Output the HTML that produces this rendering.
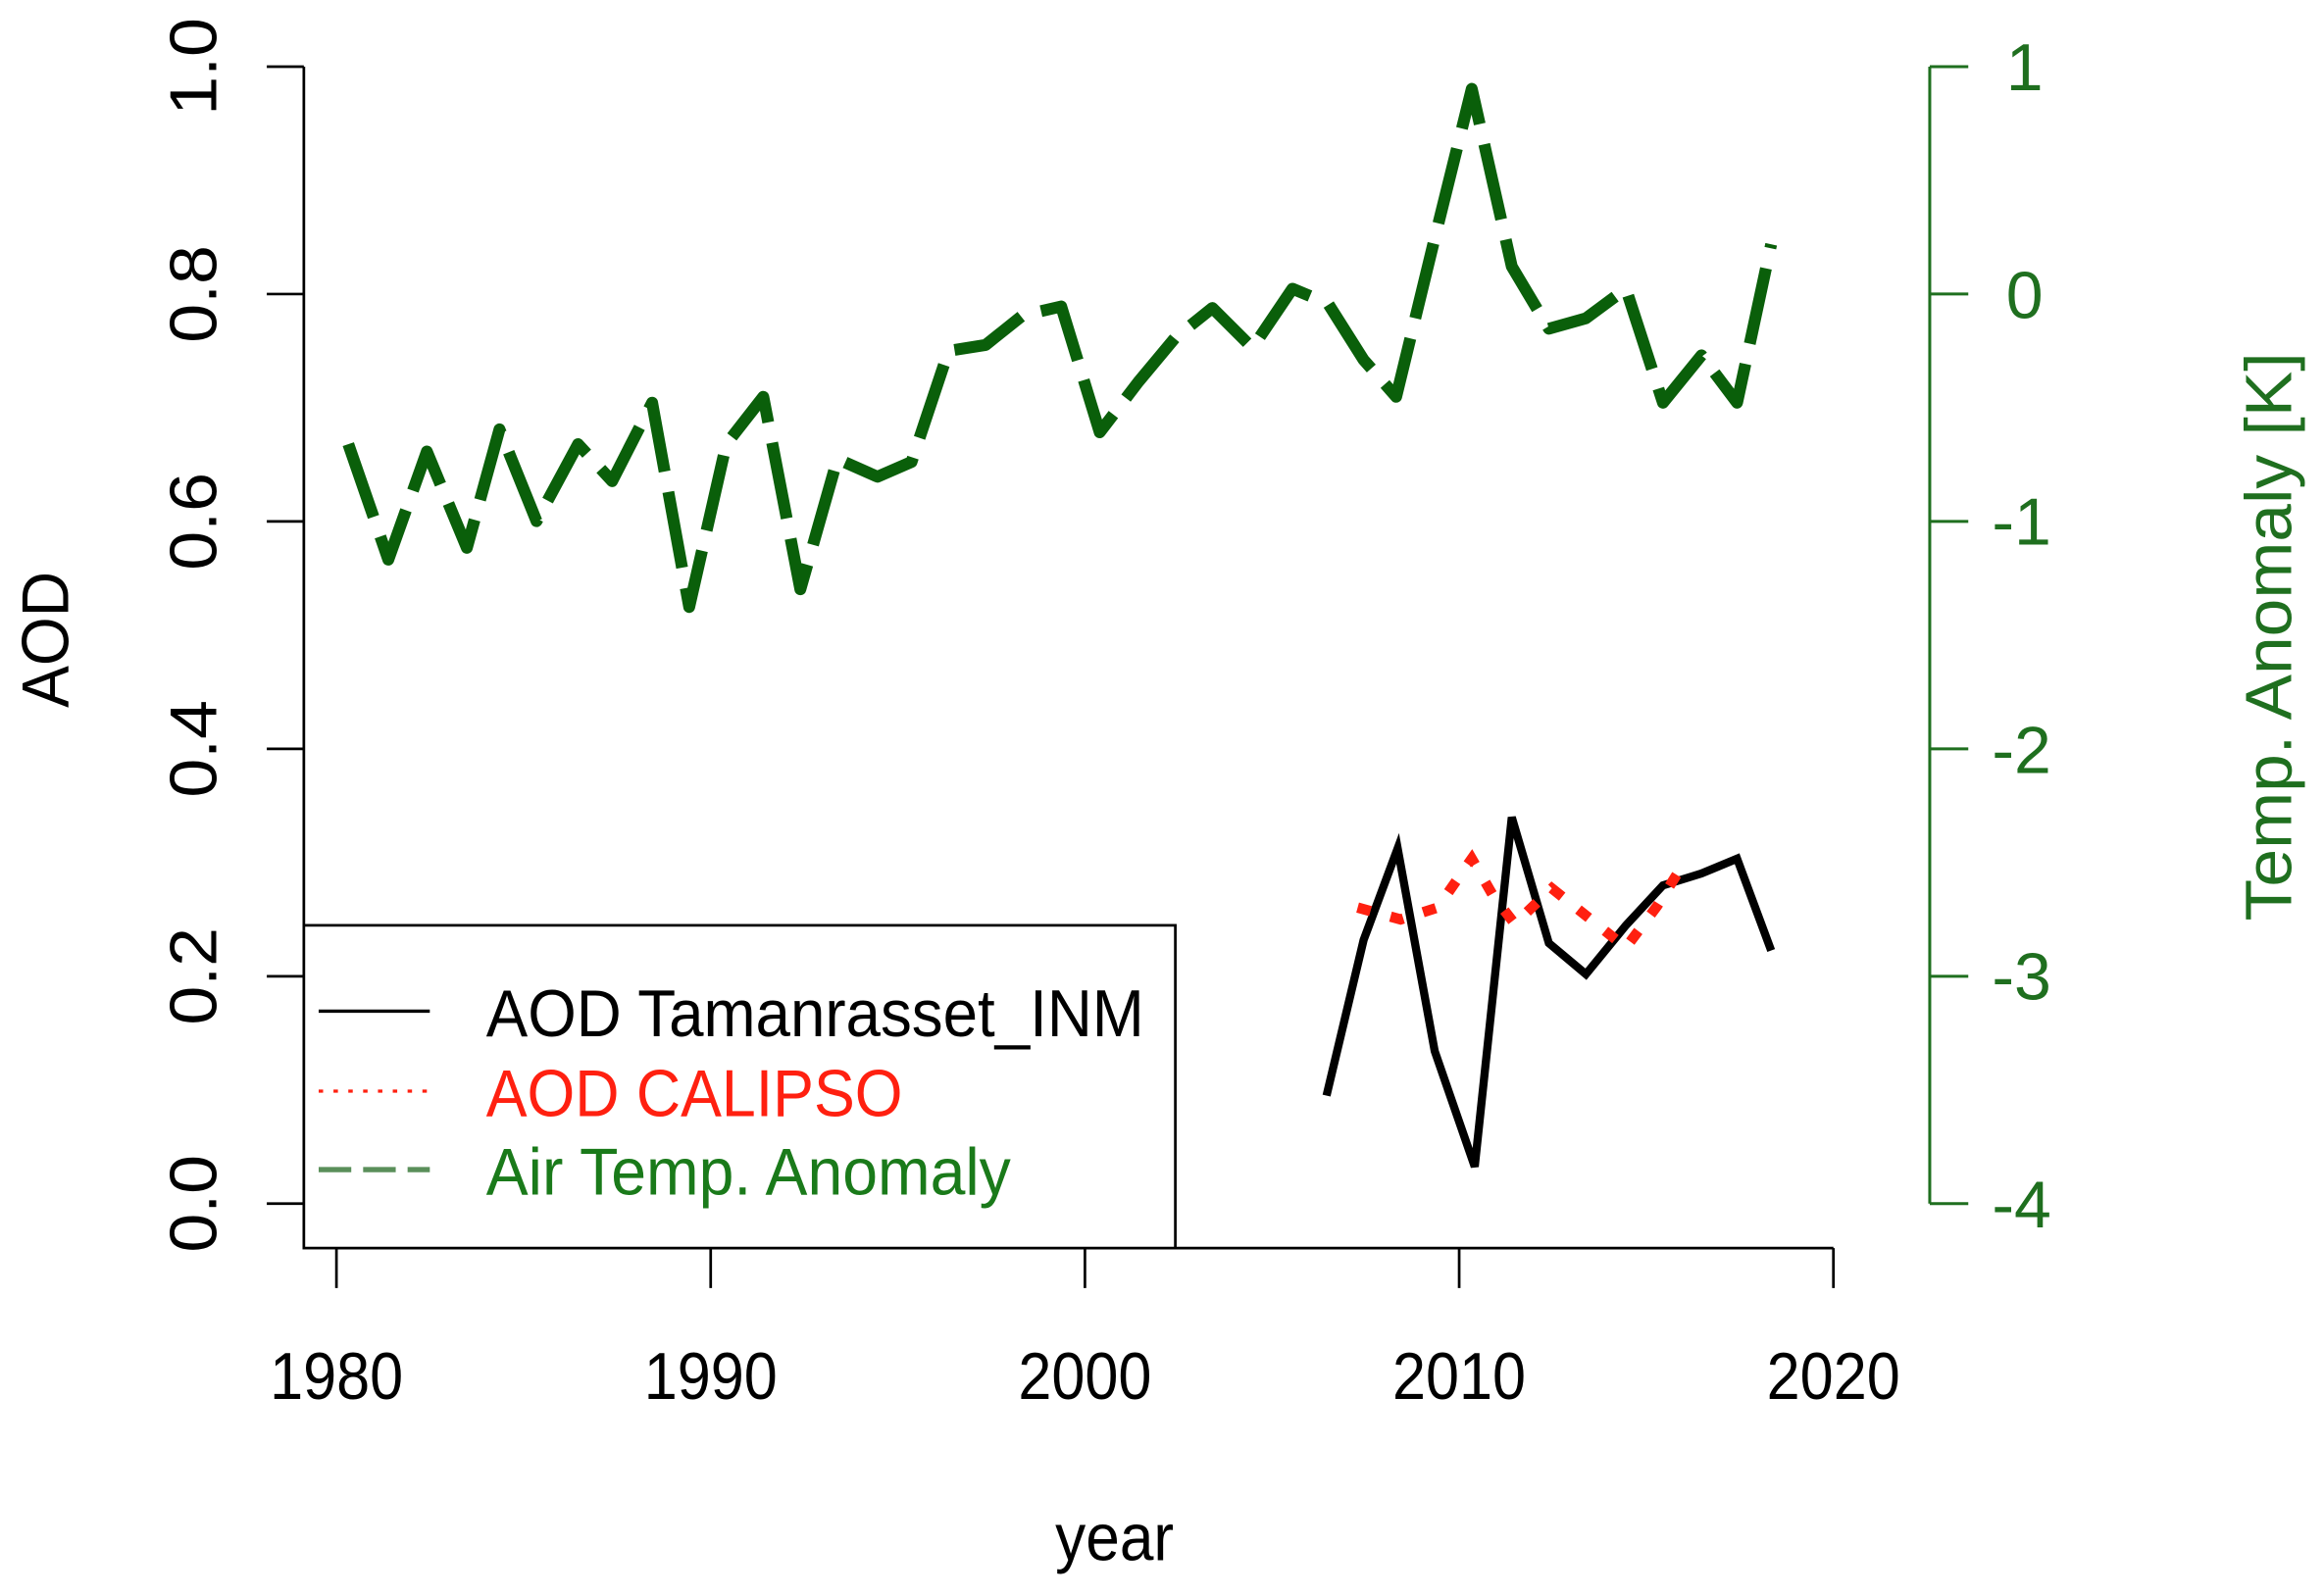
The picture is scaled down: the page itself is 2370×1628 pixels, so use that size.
<!DOCTYPE html>
<html><head><style>html,body{margin:0;padding:0;background:#fff}svg{display:block}</style></head>
<body>
<svg width="2370" height="1628" viewBox="0 0 1568 1078" preserveAspectRatio="none" xmlns="http://www.w3.org/2000/svg" font-family="Liberation Sans, Arial, sans-serif">
<rect width="1568" height="1078" fill="#fff"/>
<g stroke="#000" stroke-width="1.8" fill="none">
<line x1="205" y1="45" x2="205" y2="813"/>
<line x1="180" y1="45" x2="205" y2="45"/>
<line x1="180" y1="198.6" x2="205" y2="198.6"/>
<line x1="180" y1="352.2" x2="205" y2="352.2"/>
<line x1="180" y1="505.8" x2="205" y2="505.8"/>
<line x1="180" y1="659.4" x2="205" y2="659.4"/>
<line x1="180" y1="813" x2="205" y2="813"/>
<line x1="227" y1="843" x2="1237" y2="843"/>
<line x1="227" y1="843" x2="227" y2="870"/>
<line x1="479.5" y1="843" x2="479.5" y2="870"/>
<line x1="732" y1="843" x2="732" y2="870"/>
<line x1="984.5" y1="843" x2="984.5" y2="870"/>
<line x1="1237" y1="843" x2="1237" y2="870"/>
</g>
<g font-size="45" fill="#000" text-anchor="middle">
<text transform="translate(146,45) rotate(-90)" textLength="66" lengthAdjust="spacingAndGlyphs">1.0</text>
<text transform="translate(146,198.6) rotate(-90)" textLength="66" lengthAdjust="spacingAndGlyphs">0.8</text>
<text transform="translate(146,352.2) rotate(-90)" textLength="66" lengthAdjust="spacingAndGlyphs">0.6</text>
<text transform="translate(146,505.8) rotate(-90)" textLength="66" lengthAdjust="spacingAndGlyphs">0.4</text>
<text transform="translate(146,659.4) rotate(-90)" textLength="66" lengthAdjust="spacingAndGlyphs">0.2</text>
<text transform="translate(146,813) rotate(-90)" textLength="66" lengthAdjust="spacingAndGlyphs">0.0</text>
<text x="227" y="945" textLength="90" lengthAdjust="spacingAndGlyphs">1980</text>
<text x="479.5" y="945" textLength="90" lengthAdjust="spacingAndGlyphs">1990</text>
<text x="732" y="945" textLength="90" lengthAdjust="spacingAndGlyphs">2000</text>
<text x="984.5" y="945" textLength="90" lengthAdjust="spacingAndGlyphs">2010</text>
<text x="1237" y="945" textLength="90" lengthAdjust="spacingAndGlyphs">2020</text>
<text x="752" y="1054" textLength="80" lengthAdjust="spacingAndGlyphs">year</text>
<text transform="translate(46,432) rotate(-90)" textLength="92" lengthAdjust="spacingAndGlyphs">AOD</text>
</g>
<g stroke="#1f6f1f" stroke-width="2" fill="none">
<line x1="1302" y1="45" x2="1302" y2="813"/>
<line x1="1302" y1="45" x2="1328" y2="45"/>
<line x1="1302" y1="198.6" x2="1328" y2="198.6"/>
<line x1="1302" y1="352.2" x2="1328" y2="352.2"/>
<line x1="1302" y1="505.8" x2="1328" y2="505.8"/>
<line x1="1302" y1="659.4" x2="1328" y2="659.4"/>
<line x1="1302" y1="813" x2="1328" y2="813"/>
</g>
<g font-size="45" fill="#1f6f1f" text-anchor="middle">
<text x="1366" y="61">1</text>
<text x="1366" y="215">0</text>
<text x="1364" y="368" textLength="40" lengthAdjust="spacingAndGlyphs">-1</text>
<text x="1364" y="522" textLength="40" lengthAdjust="spacingAndGlyphs">-2</text>
<text x="1364" y="675" textLength="40" lengthAdjust="spacingAndGlyphs">-3</text>
<text x="1364" y="829" textLength="40" lengthAdjust="spacingAndGlyphs">-4</text>
<text transform="translate(1546,430) rotate(-90)" font-size="44" textLength="384" lengthAdjust="spacingAndGlyphs">Temp. Anomaly [K]</text>
</g>
<polyline fill="none" stroke="#0a5f0a" stroke-width="8" stroke-dasharray="52 14" stroke-linejoin="round" points="235,300 262,378 288,305 315,370 337,290 362,352 390,300 413,325 440,272 465,410 490,300 515,268 540,398 565,310 592,322 615,312 640,237 665,233 690,213 716,207 742,292 768,258 793,228 818,208 845,235 872,195 896,205 920,243 942,268 967,165 993,60 1020,180 1045,222 1070,215 1097,195 1122,272 1148,240 1172,272 1195,165"/>
<polyline fill="none" stroke="#000" stroke-width="5.5" stroke-linejoin="miter" points="895,740 920,635 943,573 968,710 995,788 1020,552 1045,637 1070,658 1097,625 1122,598 1148,590 1172,580 1195,642"/>
<polyline fill="none" stroke="#ff2010" stroke-width="7" stroke-dasharray="9 14" points="916,613 945,621 970,613 993,580 1008,606 1022,624 1047,600 1072,620 1097,640 1118,612 1138,580"/>
<rect x="205" y="625" width="588" height="218" fill="#fff" stroke="#000" stroke-width="1.8"/>
<line x1="215" y1="683" x2="290" y2="683" stroke="#000" stroke-width="2.2"/>
<line x1="215" y1="737" x2="290" y2="737" stroke="#ff2010" stroke-width="2.2" stroke-dasharray="3 7"/>
<line x1="215" y1="790" x2="290" y2="790" stroke="#5a8f5a" stroke-width="3.5" stroke-dasharray="22 8"/>
<g font-size="45">
<text x="328" y="700" fill="#000" textLength="444" lengthAdjust="spacingAndGlyphs">AOD Tamanrasset_INM</text>
<text x="328" y="754" fill="#ff2010" textLength="281" lengthAdjust="spacingAndGlyphs">AOD CALIPSO</text>
<text x="328" y="807" fill="#1a7a1a" textLength="354" lengthAdjust="spacingAndGlyphs">Air Temp. Anomaly</text>
</g>
</svg>
</body></html>
